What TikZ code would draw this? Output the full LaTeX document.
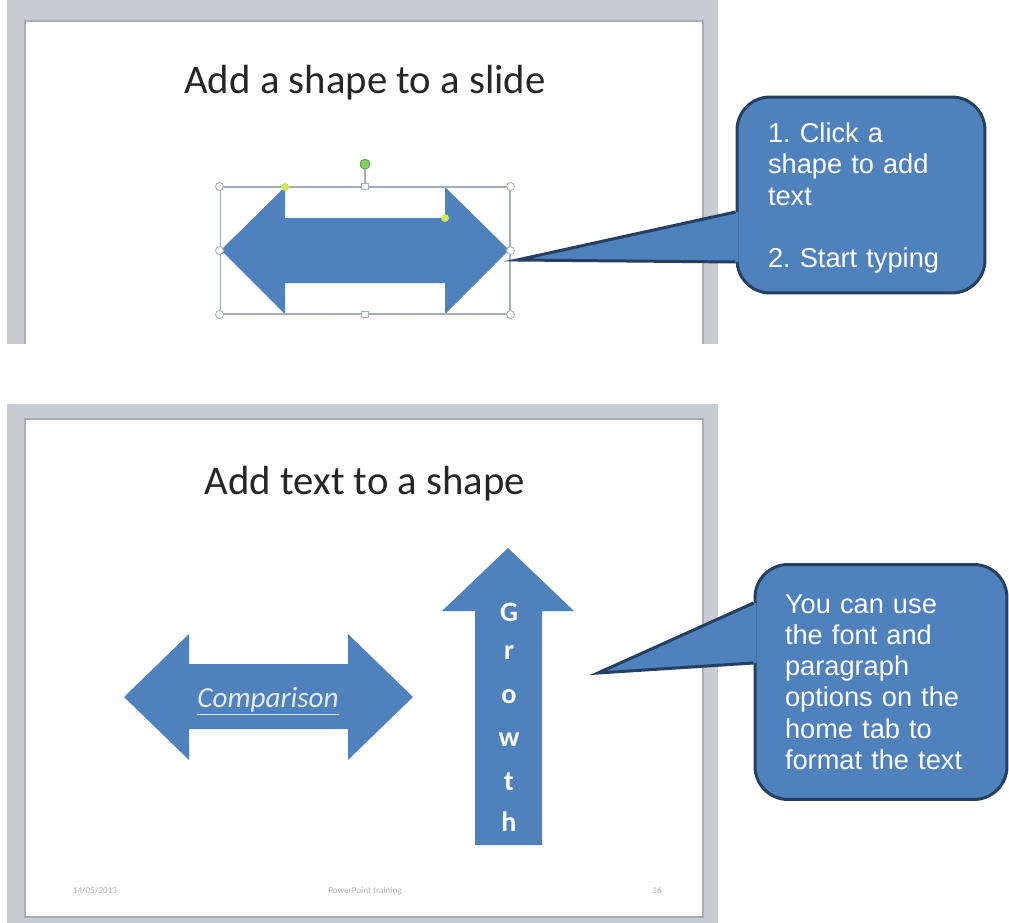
\documentclass[tikz,border=0pt]{standalone}
\usepackage{fontspec}
\newfontfamily\calibri{Carlito}
\newfontfamily\arial{Liberation Sans}
\usetikzlibrary{positioning,calc}
\definecolor{shapeblue}{HTML}{4F81BD}
\definecolor{calloutline}{HTML}{243F60}
\definecolor{framegray}{HTML}{C8CBD2}
\definecolor{framedark}{HTML}{A9ADB5}
\definecolor{titlegray}{HTML}{262626}
\definecolor{handlegray}{HTML}{A6ADBA}
\definecolor{rotgreen}{HTML}{8CCB5E}
\definecolor{adjyellow}{HTML}{D4E65A}
\definecolor{compwhite}{HTML}{E6ECF5}
\frenchspacing

\begin{document}
\begin{tikzpicture}[x=0.02cm,y=-0.02cm,
  slidetitle/.style={anchor=base,inner sep=0pt,font=\calibri\fontsize{23.2}{28}\selectfont,text=titlegray},
  footer/.style={anchor=base,inner sep=0pt,font=\calibri\fontsize{5.2}{6}\selectfont,text=black!30},
  callbox/.style={draw=calloutline,line width=1.7pt,fill=shapeblue,rounded corners=0.66cm,text=white,align=left,inner xsep=0.62cm,font=\arial\fontsize{15.5}{17.8}\selectfont},
  pointer/.style={draw=calloutline,line width=1.7pt,line join=miter},
  selbox/.style={draw=handlegray,line width=0.6pt,minimum width=5.8cm,minimum height=2.54cm,inner sep=0pt},
  handle/.style={circle,draw=handlegray,fill=white,line width=0.5pt,inner sep=0pt,minimum size=0.16cm},
  sqhandle/.style={rectangle,draw=handlegray,fill=white,line width=0.5pt,inner sep=0pt,minimum size=0.13cm},
  adjhandle/.style={circle,fill=adjyellow,inner sep=0pt,minimum size=0.16cm},
  rothandle/.style={circle,fill=rotgreen,draw=rotgreen!70!black,line width=0.4pt,inner sep=0pt,minimum size=0.2cm},
  letter/.style={inner sep=0pt,text=white,font=\calibri\bfseries\fontsize{16}{16}\selectfont}
]
\useasboundingbox (0,0) rectangle (1009,923);

% top slide
\fill[framegray] (7,0) rectangle (718,344);
\fill[white] (25,21) rectangle (703,344);
\draw[framedark,line width=0.8pt] (25,344) -- (25,21) -- (703,21) -- (703,344);
\node[slidetitle] (title1) at (365,93) {Add a shape to a slide};

\fill[shapeblue] (221,250) -- (285,187) -- (285,218) -- (445,218) -- (445,187) -- (509,250)
  -- (445,314) -- (445,283) -- (285,283) -- (285,314) -- cycle;
\node[selbox] (sel) at (365,250.5) {};
\node[rothandle,above=0.34cm of sel.north] (rot) {};
\draw[handlegray,line width=0.6pt] (rot) -- (sel.north);
\foreach \a/\n in {north west/nw,north east/ne,south west/sw,south east/se,west/w,east/e}
  \node[handle] (h\n) at (sel.\a) {};
\foreach \a/\n in {north/n,south/s}
  \node[sqhandle] (h\n) at (sel.\a) {};
\node[adjhandle] (adj1) at (285,187) {};
\node[adjhandle] (adj2) at (445,218) {};

% bottom slide
\fill[framegray] (7,404) rectangle (718,923);
\fill[white] (25,419) rectangle (703,917);
\draw[framedark,line width=0.8pt] (25,419) rectangle (703,917);
\node[slidetitle] (title2) at (365,494) {Add text to a shape};

\fill[shapeblue] (124,697) -- (189,634) -- (189,664) -- (348,664) -- (348,634) -- (413,697)
  -- (348,760) -- (348,729) -- (189,729) -- (189,760) -- cycle;
\node[anchor=base,inner sep=0pt,text=compwhite,font=\calibri\itshape\fontsize{16.6}{20}\selectfont] (comparison) at (268,707) {\underline{Comparison}};

\fill[shapeblue] (508,548) -- (574,611) -- (542,611) -- (542,845) -- (475,845) -- (475,611) -- (442,611) -- cycle;
\foreach \l/\y [count=\i] in {G/612,r/653,o/697,w/740,t/782,h/822}
  \node[letter] (growth\i) at (509,\y) {\l};

\node[footer] (date) at (95,893) {14/05/2013};
\node[footer] (foottext) at (365,893) {PowerPoint training};
\node[footer] (pagenum) at (657,893) {16};

% callouts
\node[callbox,text width=3.72cm,minimum height=3.92cm] (call1) at (861,195)
  {\rule{0pt}{14.6pt}1. Click a\\shape to add\\text\\[17.8pt]2. Start typing};
\coordinate (tip1) at (517,260);
\fill[shapeblue] ($(call1.west)+(3,17)$) -- ($(call1.west)+(0,17)$) -- (tip1)
  -- ($(call1.west)+(0,67)$) -- ($(call1.west)+(3,67)$) -- cycle;
\draw[pointer] ($(call1.west)+(0,17)$) -- (tip1) -- ($(call1.west)+(0,67)$);

\node[callbox,text width=3.84cm,inner xsep=0.6cm,minimum height=4.7cm] (call2) at (881,682)
  {You can use\\the font and\\paragraph\\options on the\\home tab to\\format the text};
\coordinate (tip2) at (598,673);
\fill[shapeblue] ($(call2.west)+(3,-79)$) -- ($(call2.west)+(0,-79)$) -- (tip2)
  -- ($(call2.west)+(0,-19)$) -- ($(call2.west)+(3,-19)$) -- cycle;
\draw[pointer] ($(call2.west)+(0,-79)$) -- (tip2) -- ($(call2.west)+(0,-19)$);
\end{tikzpicture}
\end{document}
